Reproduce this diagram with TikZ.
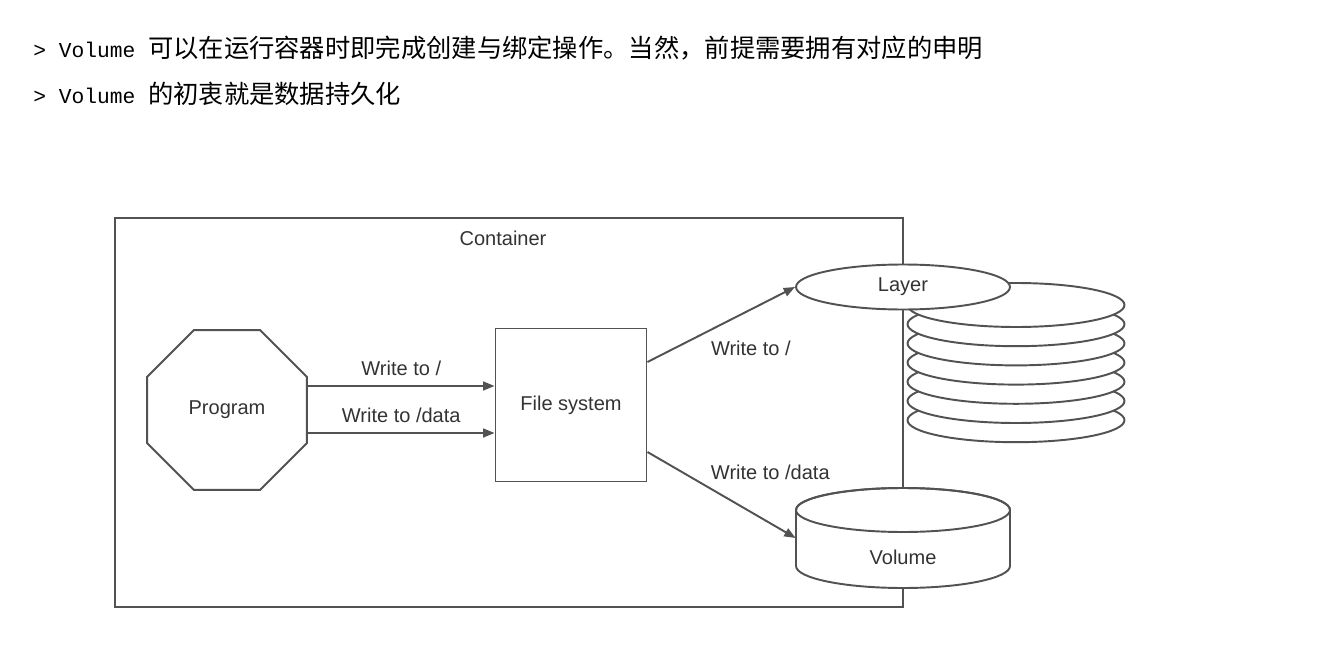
\documentclass[tikz,border=0pt]{standalone}
\usepackage{fontspec}
\newfontfamily\cjkfont{Noto Sans CJK SC}
\newfontfamily\codefont{Liberation Mono}
\newfontfamily\figfont{Liberation Sans}
\usetikzlibrary{positioning, arrows.meta, shapes.geometric, calc}

\begin{document}
\begin{tikzpicture}[x=0.02cm, y=-0.02cm,
    every node/.style={font=\figfont\fontsize{11.4}{13.7}\selectfont, text=black!80},
    box/.style={draw=black!68, line width=1.1pt},
    disk/.style={draw=black!68, line width=1.1pt, fill=white},
    flow/.style={draw=black!68, line width=1.1pt, -{Triangle[length=6.5pt,width=5pt]}}]
    \useasboundingbox (0,0) rectangle (1322,652);

    % Notes
    \node (note1) [anchor=west, inner sep=0, text=black] at (33,48) {{\codefont\fontsize{12.1}{14}\selectfont > Volume }{\cjkfont\fontsize{14.4}{17}\selectfont 可以在运行容器时即完成创建与绑定操作。当然，前提需要拥有对应的申明}};
    \node (note2) [anchor=west, inner sep=0, text=black] at (33,94) {{\codefont\fontsize{12.1}{14}\selectfont > Volume }{\cjkfont\fontsize{14.4}{17}\selectfont 的初衷就是数据持久化}};

    % Container
    \node (cont) [box, anchor=north west, minimum width=15.76cm, minimum height=7.78cm, inner sep=0] at (114,217) {};
    \node (title) at (503,238) {Container};

    % Layer stack
    \foreach \i in {6,5,...,0}
        \draw[disk] (1016,305+19.2*\i) ellipse [x radius=2.17cm, y radius=0.44cm];
    \node (layer) [disk, ellipse, minimum width=4.28cm, minimum height=0.9cm, inner sep=0] at (903,287) {Layer};

    % Volume
    \draw[disk] (796,510) -- (796,566) arc[start angle=180, end angle=360, x radius=2.14cm, y radius=0.44cm] -- (1010,510) arc[start angle=0, end angle=180, x radius=2.14cm, y radius=0.44cm] -- cycle;
    \draw[box] (903,510) ellipse [x radius=2.14cm, y radius=0.44cm];
    \node (vol) [minimum width=4.28cm, minimum height=2cm, inner sep=0, label={[yshift=-0.38cm]center:Volume}] at (903,538) {};

    \node (prog) [box, regular polygon, regular polygon sides=8, minimum size=3.46cm, inner sep=0] at (227,410) {Program};
    \node (fs) [box, minimum width=3.02cm, minimum height=3.06cm] at (571,405) {File system};

    % Liaisons
    \coordinate (p1) at ($(prog.east)+(0,-24)$);
    \coordinate (p2) at ($(prog.east)+(0,23)$);
    \coordinate (f1) at ($(fs.east)+(0,-43)$);
    \coordinate (f2) at ($(fs.east)+(0,47)$);
    \draw[flow] (p1) -- node[above=2pt] {Write to /} (p1 -| fs.west);
    \draw[flow] (p2) -- node[above=2pt] {Write to /data} (p2 -| fs.west);
    \draw[flow] (f1) -- node[pos=0.42, anchor=north west, xshift=-3pt, yshift=-2pt] {Write to /} (layer.west);
    \draw[flow] (f2) -- node[pos=0.45, anchor=south west, xshift=-5.7pt, yshift=2.6pt] {Write to /data} (vol.west);
\end{tikzpicture}
\end{document}
